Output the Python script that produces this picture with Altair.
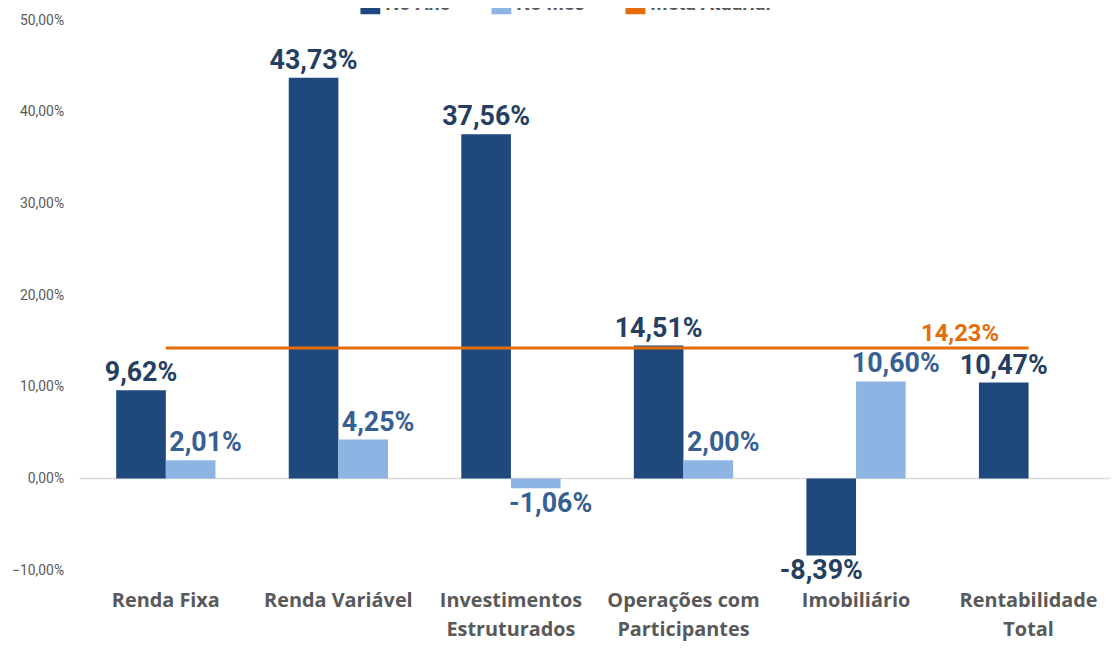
import altair as alt
import pandas as pd

categories = ["Renda Fixa", "Renda Variável", "Investimentos|Estruturados",
              "Operações com|Participantes", "Imobiliário", "Rentabilidade|Total"]
no_ano = [9.62, 43.73, 37.56, 14.51, -8.39, 10.47]
no_mes = [2.01, 4.25, -1.06, 2.00, 10.60, None]
meta_atuarial = 14.23
series = ["No Ano", "No Mês"]
y_ticks = [-10, 0, 10, 20, 30, 40, 50]

DARK = "#1F497D"
LIGHT = "#8DB4E2"
ORANGE = "#E46C0A"
DARK_TXT = "#243F60"
LIGHT_TXT = "#376092"
GRAY = "#595959"
FONT = "Roboto, sans-serif"
CAT_FONT = "Open Sans, Roboto, sans-serif"

rows = []
for c, a, m in zip(categories, no_ano, no_mes):
    rows.append({"cat": c, "serie": series[0], "v": a})
    if m is not None:
        rows.append({"cat": c, "serie": series[1], "v": m})
df = pd.DataFrame(rows)
df["lbl"] = df["v"].map(lambda v: f"{v:.2f}".replace(".", ",") + "%")

meta_df = pd.DataFrame({"cat": categories, "meta": [meta_atuarial] * len(categories)})
meta_df["lbl"] = f"{meta_atuarial:.2f}".replace(".", ",") + "%"

xscale = alt.Scale(domain=categories, paddingInner=0.4246, paddingOuter=0.1985, align=0.536)
xaxis = alt.Axis(title=None, domain=False, ticks=False, labelAngle=0,
                 labelExpr="split(datum.label, '|')",
                 labelFont=CAT_FONT, labelFontSize=20, labelFontWeight="bold",
                 labelColor=GRAY, labelPadding=21, labelLineHeight=29,
                 labelBaseline="top")
yscale = alt.Scale(domain=[-10, 50], nice=False, zero=False)
yaxis = alt.Axis(title=None, domain=False, ticks=False, grid=False,
                 values=y_ticks,
                 labelExpr="replace(format(datum.value, '.2f'), '.', ',') + '%'",
                 labelFont=FONT, labelFontSize=14, labelColor=GRAY,
                 labelPadding=16)
xenc = alt.X("cat:N", scale=xscale, sort=categories, axis=xaxis)
xoff = alt.XOffset("serie:N", scale=alt.Scale(domain=series, paddingInner=0, paddingOuter=0))
color = alt.Color("serie:N",
                  scale=alt.Scale(domain=series + ["Meta Atuarial"], range=[DARK, LIGHT, ORANGE]),
                  legend=alt.Legend(title=None, orient="none", direction="horizontal",
                                    legendX=282, legendY=-27, labelFont=FONT,
                                    labelFontSize=20, labelFontWeight="bold",
                                    labelColor=GRAY, symbolType="square", symbolSize=400,
                                    columnPadding=40))

base = alt.Chart(df)

zero = alt.Chart(pd.DataFrame({"v": [0]})).mark_rule(color="#D9D9D9", strokeWidth=1.5).encode(
    y=alt.Y("v:Q", scale=yscale, axis=yaxis))

bars = base.mark_bar().encode(x=xenc, xOffset=xoff,
                              y=alt.Y("v:Q", scale=yscale, axis=yaxis), color=color)


def labels(cond, baseline, dy, dx, col):
    return base.transform_filter(cond).mark_text(
        baseline=baseline, dy=dy, dx=dx, font=FONT, fontSize=27, fontWeight="bold", color=col
    ).encode(x=alt.X("cat:N", scale=xscale, sort=categories, axis=xaxis), xOffset=xoff,
             y=alt.Y("v:Q", scale=yscale, axis=yaxis), text="lbl:N")


pos_dark = labels("datum.v >= 0 && datum.serie == 'No Ano'", "bottom", -3, 0, DARK_TXT)
neg_dark = labels("datum.v < 0 && datum.serie == 'No Ano'", "top", 3, -10, DARK_TXT)
pos_light = labels("datum.v >= 0 && datum.serie == 'No Mês'", "bottom", -3, 15, LIGHT_TXT)
neg_light = labels("datum.v < 0 && datum.serie == 'No Mês'", "top", 3, 15, LIGHT_TXT)

meta_line = alt.Chart(meta_df).mark_line(strokeWidth=3, color=ORANGE).encode(
    x=alt.X("cat:N", scale=xscale, sort=categories, axis=xaxis),
    y=alt.Y("meta:Q", scale=yscale, axis=yaxis))
meta_lbl = alt.Chart(meta_df).transform_filter(
    alt.datum.cat == categories[-1]).mark_text(
    baseline="bottom", dy=-2, dx=-69, font=FONT, fontSize=24, fontWeight="bold", color=ORANGE
).encode(x=alt.X("cat:N", scale=xscale, sort=categories, axis=xaxis),
         y=alt.Y("meta:Q", scale=yscale, axis=yaxis), text="lbl:N")

chart = alt.layer(zero, bars, meta_line, pos_dark, neg_dark, pos_light, neg_light, meta_lbl).properties(
    width=1038, height=554,
    autosize=alt.AutoSizeParams(type="none"),
    padding={"left": 72, "top": 10, "right": 0, "bottom": 70},
    background="white",
).configure_view(strokeWidth=0, stroke="transparent")

chart.save("out.html", embed_options={"renderer": "svg", "actions": False})
